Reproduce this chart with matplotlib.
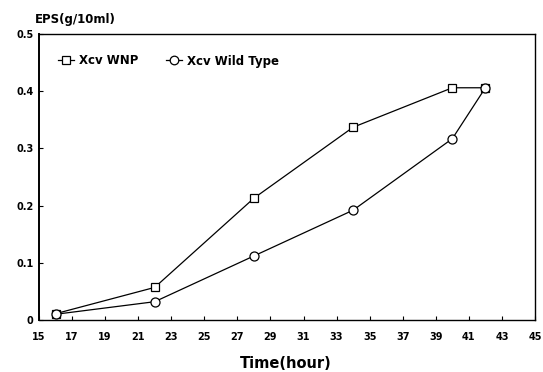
import matplotlib
matplotlib.use("Agg")
import matplotlib.pyplot as plt

time_hours = [16, 22, 28, 34, 40, 42]
wnp_eps = [0.011, 0.057, 0.213, 0.337, 0.406, 0.406]
wild_eps = [0.010, 0.032, 0.112, 0.192, 0.317, 0.406]
x_ticks = list(range(15, 46, 2))
y_ticks = [0, 0.1, 0.2, 0.3, 0.4, 0.5]
y_tick_labels = ["0", "0.1", "0.2", "0.3", "0.4", "0.5"]

plt.rcParams['font.family'] = ['DejaVu Sans']
plt.rcParams['font.weight'] = 'bold'

W, H = 543, 372
fig = plt.figure(figsize=(W/100, H/100), dpi=100)
L, R, T, B = 39, 535, 34, 320
ax = fig.add_axes([L/W, 1-B/H, (R-L)/W, (B-T)/H])

ax.plot(time_hours, wnp_eps, color='black', lw=0.9, marker='s', ms=5.5,
        mfc='white', mec='black', mew=0.9, label='Xcv WNP')
ax.plot(time_hours, wild_eps, color='black', lw=0.9, marker='o', ms=6.5,
        mfc='white', mec='black', mew=0.9, label='Xcv Wild Type')

ax.set_xlim(15, 45)
ax.set_ylim(0, 0.5)
ax.set_xticks(x_ticks)
ax.set_xticklabels([str(t) for t in x_ticks], fontsize=7, fontweight='bold')
ax.set_yticks(y_ticks)
ax.set_yticklabels(y_tick_labels, fontsize=7, fontweight='bold')
ax.tick_params(direction='in', length=3, width=0.8)
ax.tick_params(axis='x', pad=9)
ax.tick_params(axis='y', pad=4)
for s in ax.spines.values():
    s.set_linewidth(1.0)
ax.spines['left'].set_linewidth(1.4)

ax.set_xlabel('Time(hour)', fontsize=10.5, fontweight='bold')
ax.xaxis.set_label_coords((286-L)/(R-L), (B-356)/(B-T))

fig.text(35/W, 1-20/H, 'EPS(g/10ml)', fontsize=8.5, fontweight='bold',
         ha='left', va='center')

ax.legend(loc='center left', ncol=2, frameon=False,
          bbox_to_anchor=((58-L)/(R-L), (B-61)/(B-T)),
          borderaxespad=0, borderpad=0,
          handlelength=1.35, columnspacing=2.4, handletextpad=0.4,
          prop={'weight': 'bold', 'size': 8.5}, markerscale=0.95)

fig.savefig('out.png', dpi=100)
